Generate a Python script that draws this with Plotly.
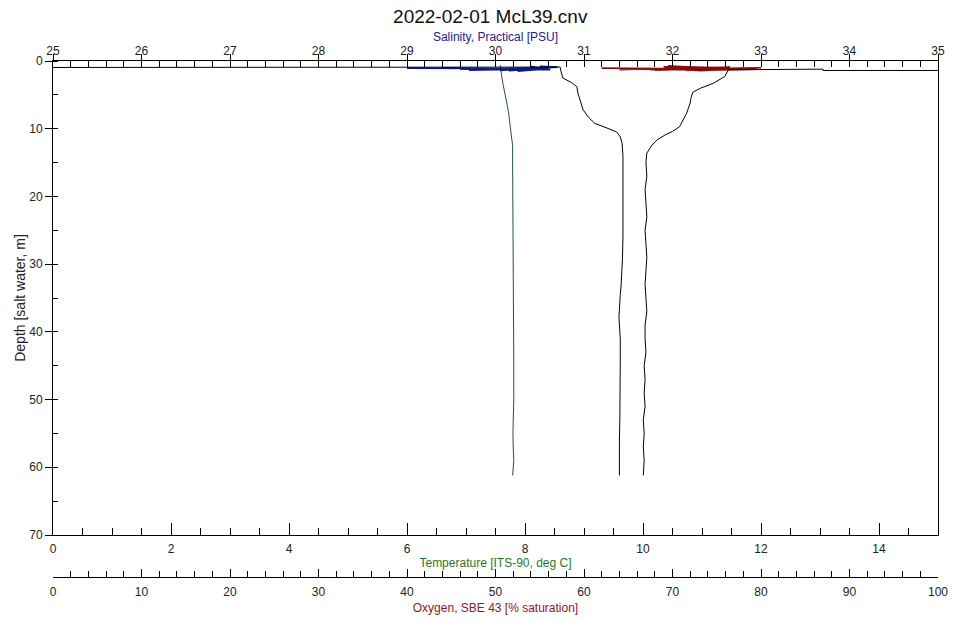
import plotly.graph_objects as go

# ---- CTD cast 2022-02-01 McL39 ----
# Temperature profile [ITS-90, deg C]
temp_depth = [0.6, 1.5, 2.5, 3.5, 4.7, 6.0, 7.5, 9.0, 10.5, 11.5, 12.5, 15, 20, 25, 30, 35, 40, 45, 50, 53, 55, 57, 59, 61.2]
temp_val = [7.58, 7.59, 7.61, 7.63, 7.66, 7.69, 7.72, 7.74, 7.76, 7.78, 7.79, 7.79, 7.795, 7.80, 7.80, 7.80, 7.805,
            7.81, 7.81, 7.80, 7.795, 7.80, 7.81, 7.79]

# Salinity near the surface (soak period, noisy)
sal_surf_val = [29.0, 29.9, 29.4, 30.2, 29.7, 30.45, 30.05, 30.6, 30.3, 30.65, 30.15, 30.55, 30.4, 30.62, 29.95,
                30.5, 30.25, 30.6, 30.5, 30.7, 30.1, 30.55, 29.6, 30.35, 30.68]
sal_surf_depth = [1.05, 1.1, 1.0, 1.25, 1.35, 1.05, 1.4, 0.95, 1.2, 0.85, 1.45, 1.1, 0.8, 1.3, 1.2, 0.95, 1.5,
                  1.15, 0.8, 0.9, 1.3, 1.0, 1.2, 1.1, 0.85]

# Salinity profile [PSU] (first two samples are off-scale at the surface)
sal_depth = [1.0, 1.0, 0.9, 1.5, 2.5, 3.2, 3.8, 4.7, 6.0, 7.2, 8.3, 9.2, 9.9, 10.5, 11.2, 12.1, 14, 17, 20, 23, 26,
             29, 31, 33, 34.5, 36, 37.8, 39, 41, 44, 47, 50, 53, 56, 58, 60, 61.2]
sal_val = [20.0, 29.0, 30.73, 30.74, 30.76, 30.86, 30.92, 30.93, 30.96, 30.99, 31.05, 31.12, 31.26, 31.37, 31.41,
           31.43, 31.44, 31.44, 31.445, 31.44, 31.44, 31.435, 31.43, 31.42, 31.41, 31.40, 31.395, 31.40, 31.41,
           31.41, 31.41, 31.41, 31.405, 31.40, 31.40, 31.40, 31.40]

# Oxygen near the surface (soak period, noisy)
oxy_surf_val = [62.0, 68.5, 64.0, 72.0, 66.5, 75.0, 69.0, 78.0, 71.5, 80.0, 70.0, 76.5, 73.0, 79.5, 67.5, 74.0,
                71.0, 77.5, 72.5, 79.5, 69.5, 75.5, 68.0, 73.5]
oxy_surf_depth = [1.05, 1.1, 1.3, 0.95, 1.2, 1.35, 0.85, 1.1, 1.4, 1.0, 1.2, 0.9, 1.45, 1.1, 1.3, 0.95, 1.15, 1.25,
                  1.4, 1.2, 0.8, 1.0, 1.35, 1.15]

# Oxygen profile [% saturation] (first samples are off-scale at the surface)
oxy_depth = [1.4, 1.4, 1.2, 1.2, 1.3, 2.3, 3.3, 4.0, 4.6, 5.4, 6.2, 7.7, 8.8, 9.7, 10.4, 10.9, 11.6, 12.4, 13.6,
             15, 17, 19, 21, 23, 25, 27, 29, 31, 33, 35, 37, 39, 41, 43, 45, 47, 49, 51, 53, 55, 57, 59, 61.2]
oxy_val = [115.0, 87.0, 87.0, 79.5, 76.3, 75.9, 74.6, 73.2, 72.3, 72.1, 72.0, 71.6, 71.2, 70.8, 70.0, 69.2, 68.3,
           67.7, 67.1, 67.0, 67.1, 66.9, 67.0, 67.1, 66.9, 67.0, 67.1, 67.0, 66.9, 67.0, 67.1, 66.9, 66.9, 67.0,
           66.8, 66.9, 66.8, 66.9, 66.7, 66.8, 66.7, 66.8, 66.7]

FONT = "Liberation Sans, Arial, sans-serif"
SAL_COLOR = "#22228a"
TEMP_COLOR = "#1f7a1f"
OXY_COLOR = "#8b1a1a"

fig = go.Figure()

fig.add_trace(go.Scatter(x=sal_surf_val, y=sal_surf_depth, xaxis="x2", yaxis="y", mode="lines",
                         line=dict(color="#0d1a86", width=1.6), showlegend=False))
fig.add_trace(go.Scatter(x=oxy_surf_val, y=oxy_surf_depth, xaxis="x3", yaxis="y", mode="lines",
                         line=dict(color="#8b0a0a", width=1.6), showlegend=False))
fig.add_trace(go.Scatter(x=temp_val, y=temp_depth, xaxis="x", yaxis="y", mode="lines",
                         line=dict(color="#1e5a2a", width=1), showlegend=False))
fig.add_trace(go.Scatter(x=sal_val, y=sal_depth, xaxis="x2", yaxis="y", mode="lines",
                         line=dict(color="black", width=1), showlegend=False))
fig.add_trace(go.Scatter(x=oxy_val, y=oxy_depth, xaxis="x3", yaxis="y", mode="lines",
                         line=dict(color="black", width=1), showlegend=False))
# empty trace on the auxiliary top axis so its outward ticks render
fig.add_trace(go.Scatter(x=[None], y=[None], xaxis="x4", yaxis="y", showlegend=False, hoverinfo="skip"))

tickfont = dict(family=FONT, size=12, color="#222")

fig.update_layout(
    width=967, height=621,
    margin=dict(l=53, r=29, t=61, b=44, autoexpand=False),
    paper_bgcolor="white", plot_bgcolor="white",
    font=dict(family=FONT, size=12, color="#222"),
    title=dict(text="2022-02-01 McL39.cnv", x=0.507, xanchor="center", y=0.973, yanchor="middle",
               font=dict(family=FONT, size=19, color="#111")),
    yaxis=dict(range=[70, 0], domain=[0.0814, 1], dtick=10, ticks="outside", ticklen=7,
               minor=dict(dtick=5, ticks="inside", ticklen=5, tickcolor="black"),
               showline=True, linecolor="black", linewidth=1, mirror=True, showgrid=False,
               zeroline=False, tickfont=tickfont, tickcolor="black", automargin=False,
               title=dict(text="Depth [salt water, m]", font=dict(family=FONT, size=14, color="#222"), standoff=0)),
    xaxis=dict(range=[0, 15], anchor="y", side="bottom", dtick=2, ticks="inside", ticklen=12,
               minor=dict(dtick=0.5, ticks="inside", ticklen=7, tickcolor="black"),
               showline=True, linecolor="black", linewidth=1, mirror=True, showgrid=False,
               zeroline=False, tickfont=tickfont, tickcolor="black", ticklabelstandoff=3, automargin=False,
               title=dict(text="Temperature [ITS-90, deg C]", font=dict(family=FONT, size=12, color=TEMP_COLOR),
                          standoff=3)),
    xaxis2=dict(range=[25, 35], overlaying="x", anchor="y", side="top", dtick=1, ticks="inside", ticklen=6,
                minor=dict(dtick=0.2, ticks="inside", ticklen=6, tickcolor="black"),
                showline=True, linecolor="black", linewidth=1, showgrid=False, zeroline=False,
                tickfont=tickfont, tickcolor="black", ticklabelstandoff=0, automargin=False,
                title=dict(text="Salinity, Practical [PSU]", font=dict(family=FONT, size=12, color=SAL_COLOR),
                           standoff=0)),
    xaxis4=dict(range=[25, 35], overlaying="x", anchor="y", side="top", dtick=1, ticks="outside", ticklen=6,
                showticklabels=False, showline=False, showgrid=False, zeroline=False, tickcolor="black",
                automargin=False),
    xaxis3=dict(range=[0, 100], overlaying="x", anchor="free", position=0, side="bottom", dtick=10,
                ticks="inside", ticklen=8,
                minor=dict(dtick=2, ticks="inside", ticklen=6, tickcolor="black"),
                showline=True, linecolor="black", linewidth=1, showgrid=False, zeroline=False,
                tickfont=tickfont, tickcolor="black", ticklabelstandoff=4, automargin=False,
                title=dict(text="Oxygen, SBE 43 [% saturation]", font=dict(family=FONT, size=12, color=OXY_COLOR),
                           standoff=5)),
)

fig.write_html("out.html")
